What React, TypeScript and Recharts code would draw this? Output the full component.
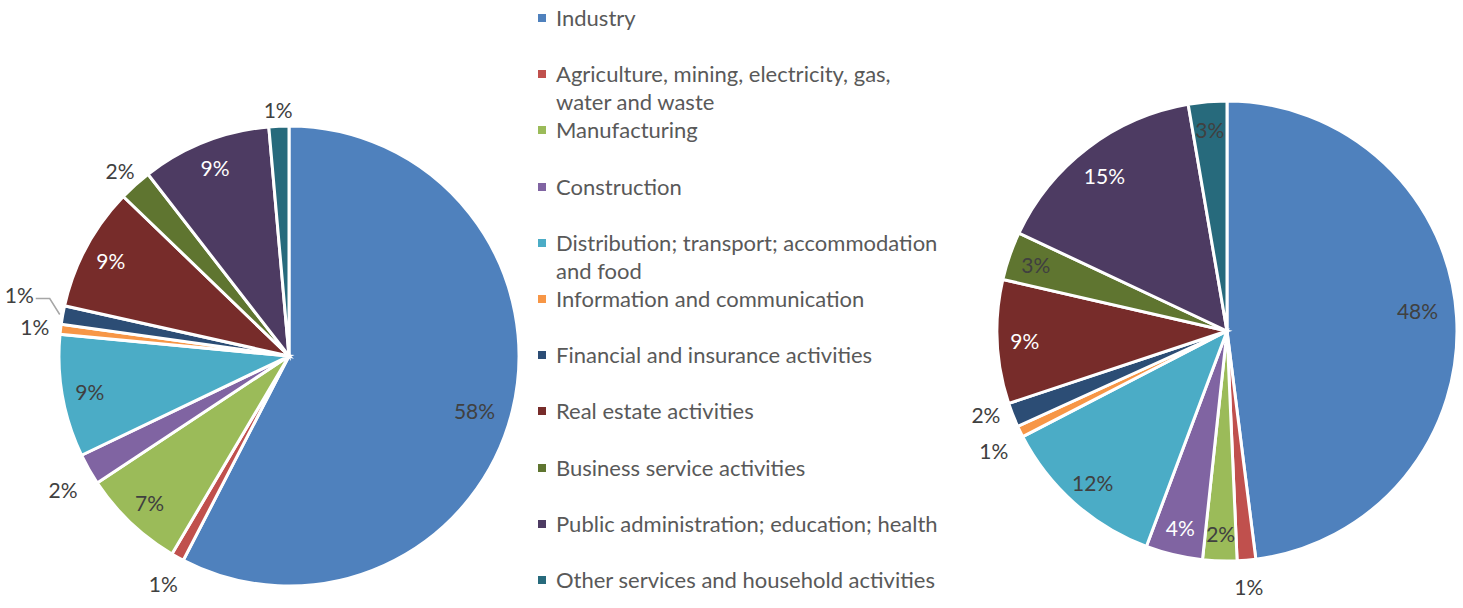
import { PieChart, Pie, Cell, Legend } from "recharts"

// sector names (legend order = slice order, clockwise from 12 o'clock)
const categories = [
  "Industry",
  "Agriculture, mining, electricity, gas,\nwater and waste",
  "Manufacturing",
  "Construction",
  "Distribution; transport; accommodation\nand food",
  "Information and communication",
  "Financial and insurance activities",
  "Real estate activities",
  "Business service activities",
  "Public administration; education; health",
  "Other services and household activities",
]

// shares in %
const leftShares = [57.6, 0.9, 7.2, 2.2, 8.6, 0.7, 1.3, 8.7, 2.3, 9.1, 1.4]
const rightShares = [48.0, 1.3, 2.4, 4.0, 11.7, 0.8, 1.7, 8.7, 3.4, 15.3, 2.7]

const COLORS = [
  "#4F81BD", // blue
  "#C0504D", // red
  "#9BBB59", // green
  "#8064A2", // purple
  "#4BACC6", // aqua
  "#F79646", // orange
  "#2C4D75", // dark blue
  "#772C2A", // dark red
  "#5F7530", // dark green
  "#4D3B62", // dark purple
  "#276A7C", // dark teal
]

// which labels sit outside the slice, which are white
const leftOutside = [1, 3, 5, 6, 8, 10]
const rightOutside = [1, 5, 6]
const leftWhite = [7, 9]
const rightWhite = [3, 7, 9]
// small vertical nudges so labels land where excel's best-fit put them
const leftNudge: Record<number, number> = { 0: 9, 3: 6, 8: 2 }
const rightNudge: Record<number, number> = { 0: -9, 5: 6, 6: -11, 9: 6 }

const FONT = "Lato, 'Open Sans', sans-serif"
const DARK = "#404040"

const leftData = categories.map((name, i) => ({ name, value: leftShares[i] }))
const rightData = categories.map((name, i) => ({ name, value: rightShares[i] }))

const makeLabel = (outside: number[], white: number[], nudge: Record<number, number>, leader: number) => (props: any) => {
  const { cx, cy, midAngle, outerRadius, percent, index } = props
  const RADIAN = Math.PI / 180
  const cos = Math.cos(-midAngle * RADIAN)
  const sin = Math.sin(-midAngle * RADIAN)
  const text = `${Math.round(percent * 100)}%`

  if (index === leader) {
    const sx = cx + (outerRadius + 3) * cos
    const sy = cy + (outerRadius + 3) * sin
    const mx = sx - 10
    const my = sy - 16
    return (
      <g>
        <polyline points={`${sx},${sy} ${mx},${my} ${mx - 14},${my}`} fill="none" stroke="#a6a6a6" strokeWidth={1.5} />
        <text x={mx - 16} y={my - 4} fill={DARK} textAnchor="end" dominantBaseline="central" fontSize={21} fontFamily={FONT}>
          {text}
        </text>
      </g>
    )
  }

  const isOut = outside.includes(index)
  const r = isOut
    ? outerRadius + 16 + 10 * Math.abs(cos) + (sin > 0 ? 10 * sin : 0)
    : index === 0
      ? outerRadius * 0.83
      : outerRadius * 0.88
  const x = cx + r * cos
  const y = cy + r * sin + (nudge[index] || 0)
  return (
    <text
      x={x}
      y={y}
      fill={!isOut && white.includes(index) ? "#ffffff" : DARK}
      textAnchor="middle"
      dominantBaseline="central"
      fontSize={21}
      fontFamily={FONT}
    >
      {text}
    </text>
  )
}

const SectorLegend = () => (
  <div style={{ fontFamily: FONT, fontSize: 22, color: "#595959" }}>
    {categories.map((name, i) => (
      <div key={i} style={{ height: 56.2, display: "flex", alignItems: "flex-start" }}>
        <div style={{ width: 8, height: 8, marginTop: 10, marginLeft: 8, background: COLORS[i] }} />
        <div style={{ marginLeft: 10, lineHeight: "28px", whiteSpace: "pre-line" }}>{name}</div>
      </div>
    ))}
  </div>
)

export default function App() {
  return (
    <div style={{ position: "absolute", left: 0, top: 0, width: 1463, height: 608, background: "#fff" }}>
      <PieChart width={1463} height={608} margin={{ top: 0, right: 0, bottom: 0, left: 0 }}>
        <Pie
          data={leftData}
          dataKey="value"
          cx={289}
          cy={356}
          outerRadius={230}
          startAngle={90}
          endAngle={-270}
          stroke="#ffffff"
          strokeWidth={3}
          labelLine={false}
          label={makeLabel(leftOutside, leftWhite, leftNudge, 6)}
          isAnimationActive={false}
        >
          {leftData.map((_, i) => (
            <Cell key={`l-${i}`} fill={COLORS[i]} />
          ))}
        </Pie>
        <Pie
          data={rightData}
          dataKey="value"
          cx={1227}
          cy={331}
          outerRadius={230}
          startAngle={90}
          endAngle={-270}
          stroke="#ffffff"
          strokeWidth={3}
          labelLine={false}
          label={makeLabel(rightOutside, rightWhite, rightNudge, -1)}
          isAnimationActive={false}
        >
          {rightData.map((_, i) => (
            <Cell key={`r-${i}`} fill={COLORS[i]} />
          ))}
        </Pie>
        <Legend
          content={<SectorLegend />}
          wrapperStyle={{ position: "absolute", left: 530, top: 4, width: 430 }}
        />
      </PieChart>
    </div>
  )
}
